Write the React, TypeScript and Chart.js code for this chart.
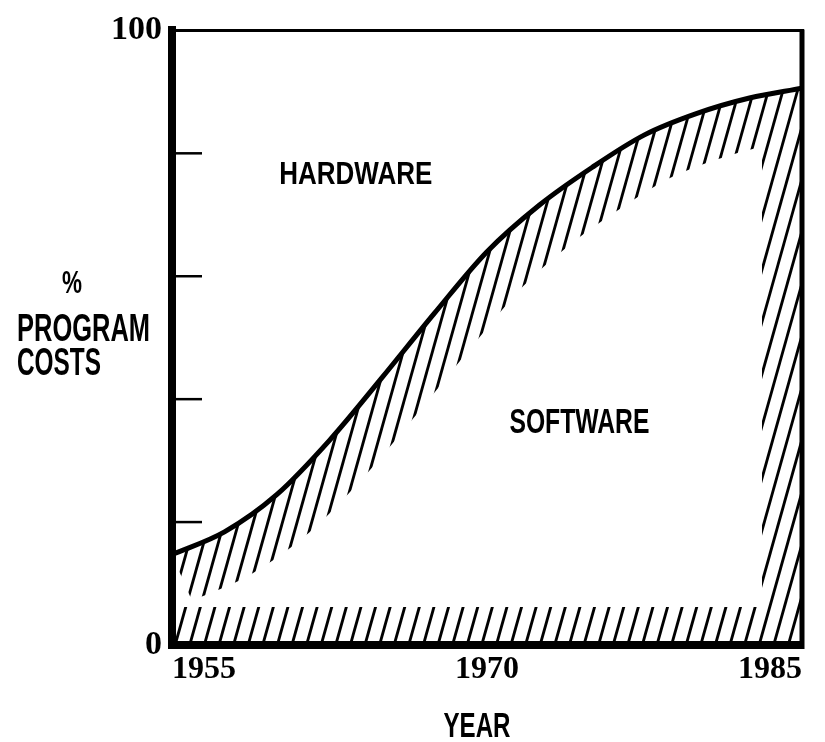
import React, { useEffect, useRef } from 'react';
import { Chart, registerables } from 'chart.js';

Chart.register(...registerables);

// ---- data ----
const years = [1955, 1957.5, 1960, 1962.5, 1965, 1967.5, 1970, 1972.5, 1975, 1977.5, 1980, 1982.5, 1985];
const softwareShare = [14.7, 18.4, 24.5, 33.3, 43.5, 54.0, 64.0, 71.6, 77.7, 83.0, 86.5, 89.0, 90.6];
const xTicks = [1955, 1970, 1985];
const yLabelled = [0, 100];
const regionLabels = ['HARDWARE', 'SOFTWARE'];
const regionLabelX = [1963.75, 1974.4];
const regionLabelY = [76.8, 36.6];
const yTitle = ['%', 'PROGRAM', 'COSTS'];
const xTitle = 'YEAR';

// ---- style constants ----
const HATCH_SPACING = 14.6;
const HATCH_SLOPE = 0.28;
const CURVE_BAND = 50;
const BOTTOM_BAND = 38;
const RIGHT_BAND = 40;
const SANS = '"Liberation Sans", Arial, sans-serif';
const SERIF = '"Liberation Serif", "Times New Roman", serif';

function fitText(
  ctx: CanvasRenderingContext2D,
  text: string,
  x: number,
  cy: number,
  capH: number,
  width: number,
  align: 'center' | 'left' = 'center'
) {
  const size = capH / 0.716;
  ctx.save();
  ctx.font = `bold ${size}px ${SANS}`;
  const m = ctx.measureText(text).width;
  const sx = width / m;
  ctx.translate(x, cy + capH / 2);
  ctx.scale(sx, 1);
  ctx.textAlign = align;
  ctx.textBaseline = 'alphabetic';
  ctx.fillStyle = '#000';
  ctx.fillText(text, 0, 0);
  ctx.restore();
}

const hatchPlugin = {
  id: 'hatchPlugin',
  beforeDatasetsDraw(chart: any) {
    const meta = chart.getDatasetMeta(0);
    const line = meta.dataset;
    if (!line) return;
    const { left, right, top, bottom } = chart.chartArea;
    const W = chart.canvas.width;
    const H = chart.canvas.height;
    const off = document.createElement('canvas');
    off.width = W;
    off.height = H;
    const oc = off.getContext('2d')!;
    oc.strokeStyle = '#000';
    oc.lineWidth = 2.8;
    const span = bottom - top;
    for (let x0 = left - HATCH_SLOPE * span; x0 <= right + HATCH_SPACING; x0 += HATCH_SPACING) {
      oc.beginPath();
      oc.moveTo(x0, bottom);
      oc.lineTo(x0 + HATCH_SLOPE * span, top);
      oc.stroke();
    }
    const mk = document.createElement('canvas');
    mk.width = W;
    mk.height = H;
    const mc = mk.getContext('2d')!;
    mc.fillStyle = '#000';
    mc.strokeStyle = '#000';
    mc.fillRect(left, bottom - BOTTOM_BAND, right - left, BOTTOM_BAND);
    mc.fillRect(right - RIGHT_BAND, top, RIGHT_BAND, span);
    mc.lineWidth = CURVE_BAND * 2;
    mc.lineJoin = 'round';
    mc.beginPath();
    line.path(mc);
    mc.stroke();
    oc.globalCompositeOperation = 'destination-in';
    oc.drawImage(mk, 0, 0);
    oc.beginPath();
    line.path(oc);
    oc.lineTo(right, bottom);
    oc.lineTo(left, bottom);
    oc.closePath();
    oc.fillStyle = '#000';
    oc.fill();
    const ctx = chart.ctx;
    ctx.save();
    ctx.setTransform(1, 0, 0, 1, 0, 0);
    ctx.drawImage(off, 0, 0);
    ctx.restore();
  },
  afterDatasetsDraw(chart: any) {
    const ctx: CanvasRenderingContext2D = chart.ctx;
    const { left, right, top, bottom } = chart.chartArea;
    const ys = chart.scales.y;
    const xs = chart.scales.x;
    ctx.save();
    ctx.strokeStyle = '#000';
    // top frame
    ctx.lineWidth = 3;
    ctx.beginPath();
    ctx.moveTo(left - 4, top);
    ctx.lineTo(right + 2, top);
    ctx.stroke();
    // right frame
    ctx.lineWidth = 5;
    ctx.beginPath();
    ctx.moveTo(right, top - 1);
    ctx.lineTo(right, bottom + 4);
    ctx.stroke();
    // inner y ticks
    ctx.lineWidth = 2.5;
    ys.ticks.forEach((t: any) => {
      if (yLabelled.includes(t.value)) return;
      const py = ys.getPixelForValue(t.value);
      ctx.beginPath();
      ctx.moveTo(left, py);
      ctx.lineTo(left + 30, py);
      ctx.stroke();
    });
    ctx.restore();
    // region labels
    const capW = [[22, 153], [25, 140]];
    regionLabels.forEach((txt, i) => {
      fitText(ctx, txt, xs.getPixelForValue(regionLabelX[i]), ys.getPixelForValue(regionLabelY[i]), capW[i][0], capW[i][1]);
    });
    // y title
    fitText(ctx, yTitle[0], 72, 282, 22, 20);
    fitText(ctx, yTitle[1], 17, 327, 28, 133, 'left');
    fitText(ctx, yTitle[2], 17, 361, 28, 84, 'left');
    // x title
    fitText(ctx, xTitle, 477, 724, 25, 67);
  },
};

export default function App() {
  const ref = useRef<HTMLCanvasElement>(null);
  useEffect(() => {
    if (!ref.current) return;
    const chart = new Chart(ref.current, {
      type: 'line',
      data: {
        datasets: [
          {
            data: years.map((y, i) => ({ x: y, y: softwareShare[i] })),
            borderColor: '#000',
            borderWidth: 5,
            pointRadius: 0,
            fill: false,
            cubicInterpolationMode: 'monotone',
          },
        ],
      },
      options: {
        responsive: false,
        animation: false,
        layout: { padding: { left: 72, top: 24, right: 23, bottom: 47 } },
        plugins: { legend: { display: false }, tooltip: { enabled: false } },
        scales: {
          x: {
            type: 'linear',
            min: 1955,
            max: 1985,
            afterBuildTicks: (axis: any) => {
              axis.ticks = xTicks.map((v) => ({ value: v }));
            },
            afterFit: (s: any) => {
              s.height = 50;
            },
            grid: { display: false, drawTicks: false },
            border: { display: true, width: 8, color: '#000' },
            ticks: {
              align: 'inner',
              padding: 6,
              autoSkip: false,
              maxRotation: 0,
              color: '#000',
              font: { family: SERIF, size: 32, weight: 'bold' },
              callback: (v: any) => String(v),
            },
          },
          y: {
            min: 0,
            max: 100,
            afterFit: (s: any) => {
              s.width = 100;
            },
            grid: { display: false, drawTicks: false },
            border: { display: true, width: 8, color: '#000' },
            ticks: {
              stepSize: 20,
              padding: 10,
              autoSkip: false,
              color: '#000',
              font: { family: SERIF, size: 34, weight: 'bold' },
              callback: (v: any) => (yLabelled.includes(v) ? String(v) : ''),
            },
          },
        },
      },
      plugins: [hatchPlugin],
    } as any);
    return () => chart.destroy();
  }, []);
  return (
    <div style={{ position: 'absolute', left: 0, top: 0, width: 825, height: 742, background: '#fff' }}>
      <canvas ref={ref} width={825} height={742} style={{ display: 'block' }} />
    </div>
  );
}
